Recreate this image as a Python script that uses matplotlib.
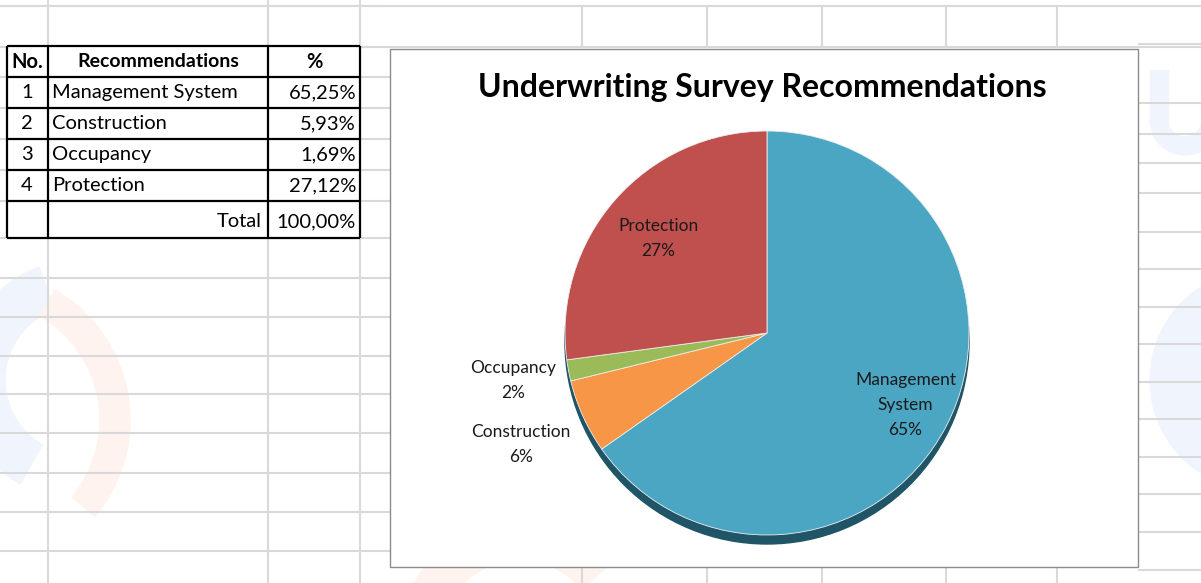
import matplotlib
matplotlib.use("Agg")
import matplotlib.pyplot as plt
import numpy as np
from matplotlib.patches import Rectangle, Circle, Wedge

plt.rcParams['font.family'] = ['Lato', 'DejaVu Sans']

# ---------------------------------------------------------------- data
nos = [1, 2, 3, 4]
recs = ["Management System", "Construction", "Occupancy", "Protection"]
pct = [65.25, 5.93, 1.69, 27.12]
total_pct = 100.00
title = "Underwriting Survey Recommendations"

colors = ['#4BA6C4', '#F79646', '#9BBB59', '#C0504D']
label_dist = [0.78, 1.35, 1.29, 0.72]   # Excel "best fit" positions

def fmt(v):
    return ("%.2f" % v).replace('.', ',') + '%'

# ---------------------------------------------------------------- figure
fig = plt.figure(figsize=(12.01, 5.83), dpi=100)
bg = fig.add_axes([0, 0, 1, 1])
bg.set_xlim(0, 1201)
bg.set_ylim(583, 0)
bg.axis('off')

# faint watermark shapes behind the sheet
wm_or = '#fef3ee'; wm_bl = '#f0f5fd'
bg.add_patch(Wedge((470, -60), 120, 200, 340, width=45, color=wm_or, zorder=0))
bg.add_patch(Wedge((80, 380), 120, 120, 250, width=45, color=wm_bl, zorder=0))
bg.add_patch(Wedge((-20, 420), 150, -60, 40, width=30, color=wm_or, zorder=0))
bg.add_patch(Wedge((1260, 380), 110, 100, 260, width=50, color=wm_bl, zorder=0))
bg.add_patch(Wedge((520, 640), 120, 200, 320, width=40, color=wm_or, zorder=0))
# big faint "U" at the right edge
bg.add_patch(Wedge((1185, 120), 35, 0, 180, width=18, color=wm_bl, zorder=0))
bg.add_patch(Rectangle((1150, 70), 18, 50, color=wm_bl, zorder=0))
bg.add_patch(Rectangle((1202, 70), 18, 50, color=wm_bl, zorder=0))

# spreadsheet gridlines
gc = '#d9d9d9'; glw = 1.5
left_rows = [6, 47, 77, 108, 139, 170, 201, 238, 278, 317, 356, 394, 433, 473, 512, 551]
right_rows = [44, 103, 134, 163, 193, 232, 269, 307, 344, 382, 419, 457, 494, 532, 570]
top_cols = [48, 268, 360, 582, 707, 822, 946, 1057]
bg.hlines([6, 47], 0, 1201, color=gc, lw=glw, zorder=1)
bg.hlines(left_rows, 0, 390, color=gc, lw=glw, zorder=1)
bg.hlines(right_rows, 1138, 1201, color=gc, lw=glw, zorder=1)
bg.vlines([48, 268, 360], 0, 583, color=gc, lw=glw, zorder=1)
bg.vlines(top_cols, 6, 47, color=gc, lw=glw, zorder=1)
bg.vlines(top_cols[3:], 567, 583, color=gc, lw=glw, zorder=1)

# ---------------------------------------------------------------- table
row_y = [46, 77, 108, 139, 170, 201, 238]
col_x = [7, 48, 268, 360]
bg.add_patch(Rectangle((7, 46), 353, 192, fc='white', ec='none', zorder=2))
bg.hlines(row_y, col_x[0], col_x[-1], color='black', lw=1.6, zorder=4)
bg.vlines(col_x, row_y[0], row_y[-1], color='black', lw=1.6, zorder=4)

tfs = 14.5
mid = [(row_y[i] + row_y[i + 1]) / 2 for i in range(len(row_y) - 1)]
bg.text(27, mid[0], "No.", ha='center', va='center', fontsize=tfs, fontweight='bold', zorder=5)
bg.text(158, mid[0], "Recommendations", ha='center', va='center', fontsize=tfs - 0.5, fontweight='bold', zorder=5)
bg.text(314, mid[0], "%", ha='center', va='center', fontsize=tfs, fontweight='bold', zorder=5)
for i in range(len(recs)):
    y = mid[i + 1]
    bg.text(27, y, str(nos[i]), ha='center', va='center', fontsize=tfs, zorder=5)
    bg.text(52, y, recs[i], ha='left', va='center', fontsize=tfs, zorder=5)
    bg.text(356, y, fmt(pct[i]), ha='right', va='center', fontsize=tfs, zorder=5)
bg.text(262, mid[-1] + 2, "Total", ha='right', va='center', fontsize=tfs, zorder=5)
bg.text(356, mid[-1] + 2, fmt(total_pct), ha='right', va='center', fontsize=tfs, zorder=5)

# ---------------------------------------------------------------- chart box
bg.add_patch(Rectangle((390, 49), 748, 518, fc='white', ec='#8c8c8c', lw=1.0, zorder=3))
bg.text(762, 88, title, ha='center', va='center', fontsize=23, fontweight='bold', zorder=5)

# ---------------------------------------------------------------- pie
ax = fig.add_axes([517 / 1201, 0, 500 / 1201, 500 / 583])
R = 1.01
ax.add_patch(Circle((0, -0.045), R, color='#1f5566', zorder=1))
wedges, _ = ax.pie(pct, colors=colors, startangle=90, counterclock=False,
                   radius=R, frame=True,
                   wedgeprops=dict(edgecolor='#eeeeee', linewidth=0.6))
for w in wedges:
    w.set_zorder(2)
ax.set_xlim(-1.25, 1.25)
ax.set_ylim(-1.25, 1.25)
ax.axis('off')

tot = float(np.sum(pct))
cum = 0.0
for i in range(len(pct)):
    ang = np.deg2rad(90 - 360 * (cum + pct[i] / 2) / tot)
    cum += pct[i]
    name = recs[i].replace(' ', '\n')
    ax.text(label_dist[i] * np.cos(ang), label_dist[i] * np.sin(ang),
            "%s\n%d%%" % (name, round(pct[i])), ha='center', va='center',
            fontsize=12.5, color='#1a1a1a', linespacing=1.7, zorder=5,
            clip_on=False)

fig.savefig("out.png", dpi=100)
